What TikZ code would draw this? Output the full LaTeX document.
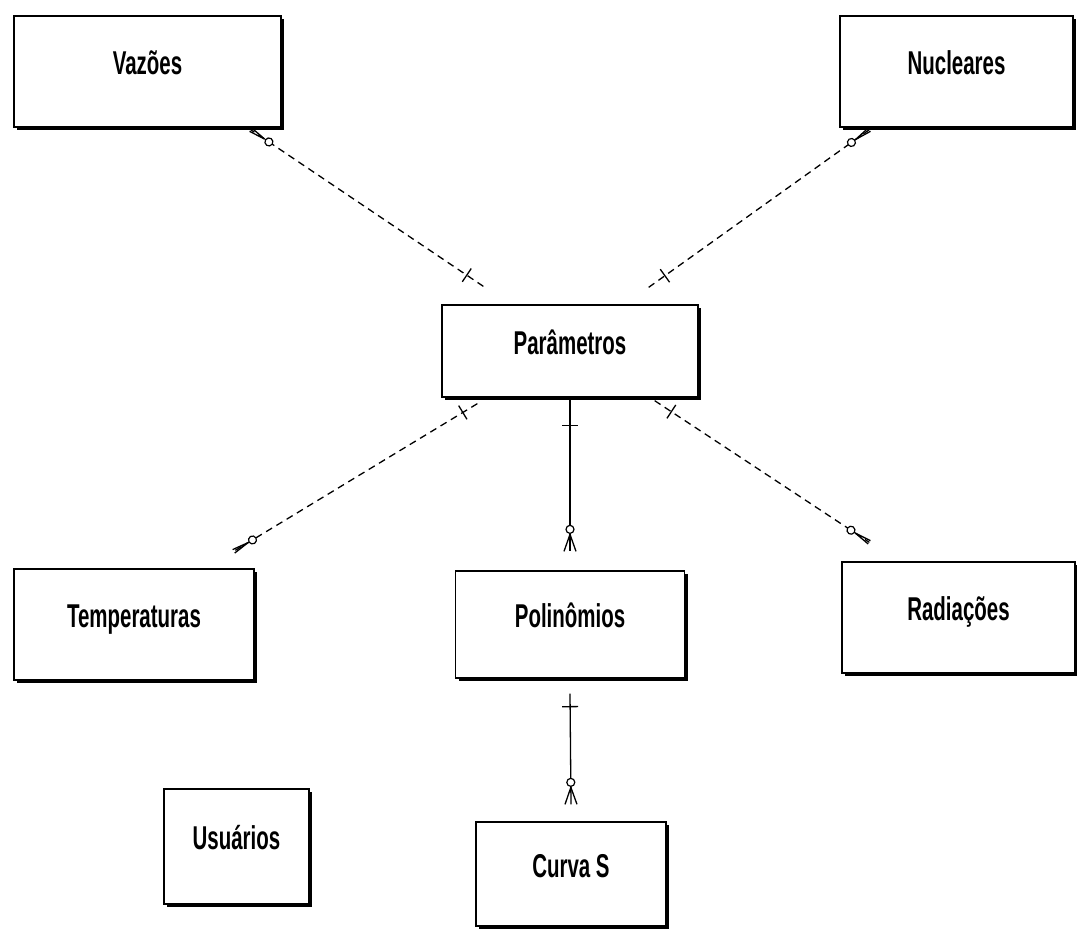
\documentclass[tikz,border=0pt]{standalone}
\usepackage{fontspec}
\setmainfont{Liberation Sans}[FakeStretch=0.62]
\usetikzlibrary{shadows}
\usetikzlibrary{decorations.markings}

\begin{document}
\begin{tikzpicture}[x=1pt, y=-1pt,
    entidade/.style={draw, line width=1.3pt, fill=white, inner sep=0pt,
      font=\fontsize{33}{33}\selectfont\bfseries, text height=23pt, text depth=17pt,
      general shadow={fill=black, shadow xshift=3pt, shadow yshift=-3pt}},
    rel/.style={line width=1.3pt},
    naoident/.style={rel, dash pattern=on 7pt off 5pt},
    um/.style={postaction={decorate, decoration={markings,
        mark=at position #1 with {\draw[solid, line width=1.3pt] (0,-8pt) -- (0,8pt);}}}},
    um/.default=20pt,
    muitos/.style={postaction={decorate, decoration={markings,
        mark=at position -22pt with {\draw[solid, line width=1.2pt, fill=white] (0,0) circle[radius=4pt];},
        mark=at position 1 with {\draw[solid, line width=1.3pt] (-17pt,0) -- (0,#1) (-17pt,0) -- (0,-#1);}}}},
    muitos/.default=6pt]
  \useasboundingbox (0,0) rectangle (1077,930);

  \node[entidade, minimum width=267pt, minimum height=111pt] (vazoes) at (147.5,71.5) {Vazões};
  \node[entidade, minimum width=233pt, minimum height=111pt] (nucleares) at (956.5,71.5) {Nucleares};
  \node[entidade, minimum width=256pt, minimum height=92pt] (param) at (570,351) {Parâmetros};
  \node[entidade, minimum width=240pt, minimum height=111pt] (temp) at (134,624.5) {Temperaturas};
  \node[entidade, minimum width=229pt, minimum height=107pt] (polin) at (570,624.5) {Polinômios};
  \node[entidade, minimum width=233pt, minimum height=111pt] (rad) at (958.5,617.5) {Radiações};
  \node[entidade, minimum width=145pt, minimum height=115pt] (usuarios) at (236.5,846.5) {Usuários};
  \node[entidade, minimum width=190pt, minimum height=104pt] (curva) at (571,874) {Curva S};

  \draw[naoident, um, muitos=2pt] ([xshift=42pt, yshift=18pt]param.north west) -- ([xshift=-31pt, yshift=-2pt]vazoes.south east);
  \draw[naoident, um, muitos=2pt] ([xshift=-50pt, yshift=17pt]param.north east) -- ([xshift=30pt, yshift=-2pt]nucleares.south west);
  \draw[naoident, um=17pt, muitos=2pt] ([xshift=36pt, yshift=-6pt]param.south west) -- ([xshift=-21pt, yshift=17pt]temp.north east);
  \draw[naoident, um, muitos=2pt] ([xshift=-44pt, yshift=-3pt]param.south east) -- ([xshift=28pt, yshift=19pt]rad.north west);
  \draw[rel, um=28pt, muitos] (param.south) -- ([yshift=19pt]polin.north);
  \draw[rel, um=13pt, muitos] ([yshift=-15pt]polin.south) -- ([yshift=17pt]curva.north);
\end{tikzpicture}
\end{document}
